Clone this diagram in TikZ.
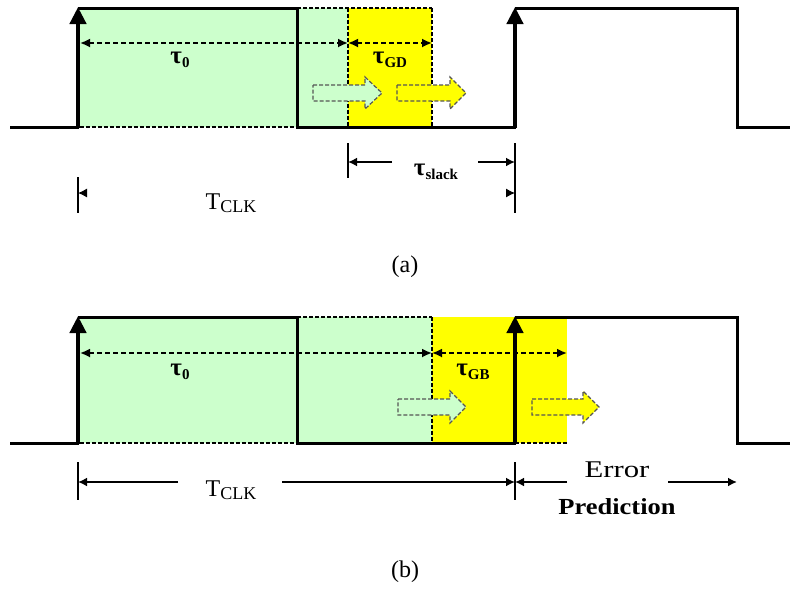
\documentclass[tikz,border=0pt]{standalone}
\usepackage{fontspec}
\setmainfont{Liberation Serif}
\usetikzlibrary{arrows.meta}
\definecolor{lgreen}{HTML}{CCFFCC}
\definecolor{yel}{HTML}{FFFF00}
\definecolor{arrowgray}{HTML}{555555}

% hollow dashed block arrow: fill, tail x, neck x, tip x, centre y
\newcommand\blockarrow[5]{%
  \draw[hollow, fill=#1] (#2,#5-8) -- (#3,#5-8) -- (#3,#5-16) -- (#4,#5)
    -- (#3,#5+16) -- (#3,#5+8) -- (#2,#5+8) -- cycle;}
\newcommand\sublabel[2]{{\bfseries\fontsize{25}{25}\selectfont τ\raisebox{-4pt}{\fontsize{15}{15}\selectfont #2}}}
\newcommand\tclk{{\fontsize{24}{24}\selectfont T\raisebox{-3pt}{\fontsize{18}{18}\selectfont CLK}}}

\begin{document}
\begin{tikzpicture}[x=1pt,y=-1pt,
  sig/.style={line width=3pt, line join=miter},
  riseedge/.style={line width=4.5pt, -{Triangle[length=17pt,width=16pt]}},
  outline/.style={line width=1.2pt, dash pattern=on 4pt off 2pt},
  dimline/.style={line width=1.8pt, dash pattern=on 5pt off 3pt,
    {Latex[length=10pt,width=9pt]}-{Latex[length=10pt,width=9pt]}},
  hollow/.style={draw=arrowgray, line width=1.2pt, dash pattern=on 4pt off 2pt},
  tick/.style={line width=2pt},
  measure/.style={line width=2.6pt, -{Latex[length=9pt,width=9pt]}},
  lbl/.style={inner sep=0pt, anchor=center}
]
\useasboundingbox (0,0) rectangle (792,590);

% ================= (a) =================
% shaded regions
\fill[lgreen] (80,8) rectangle (348,127);
\fill[yel] (348,8) rectangle (432,127);
% dashed outlines of the extended delay
\draw[outline] (297,8) -- (432,8);
\draw[outline] (348,8) -- (348,127);
\draw[outline] (432,8) -- (432,127);
\draw[outline] (80,127) -- (297,127);
% delay dimensions
\coordinate (a0) at (80,43);
\coordinate (a1) at (348,43);
\coordinate (a2) at (432,43);
\draw[dimline] (a0) -- (a1);
\draw[dimline] (a1) -- (a2);
\node[lbl] (tau0a) at (180,60) {\sublabel{}{0}};
\node[lbl] (taugd) at (390,60) {\sublabel{}{GD}};
% propagating data arrows
\blockarrow{lgreen}{313}{365}{382}{93}
\blockarrow{yel}{397}{450}{466}{93}
% clock waveform
\draw[sig] (10,127) -- (79,127);
\draw[sig] (78,8) -- (297,8) -- (297,127) -- (516,127);
\draw[sig] (515,8) -- (737,8) -- (737,127) -- (790,127);
\draw[riseedge] (78,128) -- (78,7);
\draw[riseedge] (515,128) -- (515,7);
% slack
\draw[tick] (348,143) -- (348,178);
\draw[tick] (515,143) -- (515,213);
\draw[tick] (78,177) -- (78,213);
\node[lbl] (slack) at (436,172) {{\bfseries\fontsize{25}{25}\selectfont τ\raisebox{-4pt}{\fontsize{15}{15}\selectfont slack}}};
\coordinate (s0) at (348,162);
\coordinate (s1) at (392,162);
\coordinate (s2) at (478,162);
\coordinate (s3) at (515,162);
\draw[measure] (s1) -- (s0);
\draw[measure] (s2) -- (s3);
% clock period marks
\coordinate (c0) at (78,193);
\coordinate (c1) at (86,193);
\coordinate (c2) at (507,193);
\coordinate (c3) at (515,193);
\draw[measure, line width=1pt] (c1) -- (c0);
\draw[measure, line width=1pt] (c2) -- (c3);
\node[lbl] (tclka) at (231,203) {\tclk};
\node[lbl] (capa) at (405,267) {\fontsize{24}{24}\selectfont (a)};

% ================= (b) =================
\fill[lgreen] (80,317) rectangle (432,443);
\fill[yel] (432,317) rectangle (567,443);
\draw[outline] (297,317) -- (432,317);
\draw[outline] (432,317) -- (432,443);
\draw[outline] (80,443) -- (297,443);
\draw[outline] (515,443) -- (567,443);
\coordinate (b0) at (80,353);
\coordinate (b1) at (432,353);
\coordinate (b2) at (567,353);
\draw[dimline] (b0) -- (b1);
\draw[dimline] (b1) -- (b2);
\node[lbl] (tau0b) at (180,372) {\sublabel{}{0}};
\node[lbl] (taugb) at (473,372) {\sublabel{}{GB}};
\blockarrow{lgreen}{398}{450}{466}{407}
\blockarrow{yel}{532}{583}{599}{407}
% clock waveform
\draw[sig] (10,443) -- (79,443);
\draw[sig] (78,317) -- (297,317) -- (297,443) -- (516,443);
\draw[sig] (515,317) -- (737,317) -- (737,443) -- (790,443);
\draw[riseedge] (78,444) -- (78,316);
\draw[riseedge] (515,444) -- (515,316);
% clock period and prediction window
\draw[tick] (78,462) -- (78,500);
\draw[tick] (515,462) -- (515,500);
\coordinate (p0) at (78,482);
\coordinate (p1) at (178,482);
\coordinate (p2) at (282,482);
\coordinate (p3) at (515,482);
\coordinate (p4) at (567,482);
\coordinate (p5) at (668,482);
\coordinate (p6) at (737,482);
\draw[measure] (p1) -- (p0);
\draw[measure] (p2) -- (p3);
\draw[measure] (p4) -- (p3);
\draw[measure] (p5) -- (p6);
\node[lbl] (tclkb) at (231,490) {\tclk};
\node[lbl] (err) at (617,470) {\scalebox{1.28}[1]{\fontsize{24}{24}\selectfont Error}};
\node[lbl] (pred) at (617,507) {\scalebox{1.15}[1]{\bfseries\fontsize{23}{23}\selectfont Prediction}};
\node[lbl] (capb) at (405,572) {\fontsize{24}{24}\selectfont (b)};
\end{tikzpicture}
\end{document}
